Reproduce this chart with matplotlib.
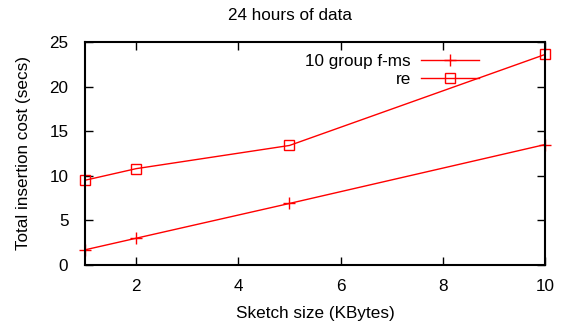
import matplotlib
matplotlib.use("Agg")
import matplotlib.pyplot as plt

plt.rcParams['font.family'] = ['Liberation Sans', 'DejaVu Sans']

# data
sizes = [1, 2, 5, 10]
fms_cost = [1.7, 3.0, 6.9, 13.5]
re_cost = [9.5, 10.8, 13.4, 23.6]

fig = plt.figure(figsize=(5.69, 3.29), dpi=100)
ax = fig.add_axes([85 / 569, 1 - 265 / 329, 460 / 569, 223 / 329])

ax.plot(sizes, fms_cost, color='red', lw=1, marker='+', ms=8, mew=1,
        label='10 group f-ms', clip_on=False)
ax.plot(sizes, re_cost, color='red', lw=1, marker='s', ms=7, mew=1,
        mfc='none', label='re', clip_on=False)

ax.set_xlim(1, 10)
ax.set_ylim(0, 25)
ax.set_xticks([2, 4, 6, 8, 10])
ax.set_yticks([0, 5, 10, 15, 20, 25])
ax.tick_params(direction='in', length=6, width=1, top=True, right=True,
               labelsize=12.3)
ax.tick_params(axis='y', pad=12)
ax.tick_params(axis='x', pad=10)
for s in ax.spines.values():
    s.set_linewidth(1.5)

ax.set_xlabel('Sketch size (KBytes)', fontsize=12.3, labelpad=9)
ax.set_ylabel('Total insertion cost (secs)', fontsize=12.3, labelpad=13)
# gnuplot centres the title on the whole canvas
fig.text(290 / 569, 1 - 15 / 329, '24 hours of data', fontsize=12.3,
         ha='center', va='center')

ax.legend(loc='upper right', bbox_to_anchor=(0.883, 1.0), frameon=False,
          markerfirst=False, handlelength=3.4, fontsize=12.3,
          borderaxespad=0.3, labelspacing=0.15, handletextpad=0.6)

fig.savefig('out.png', dpi=100)
